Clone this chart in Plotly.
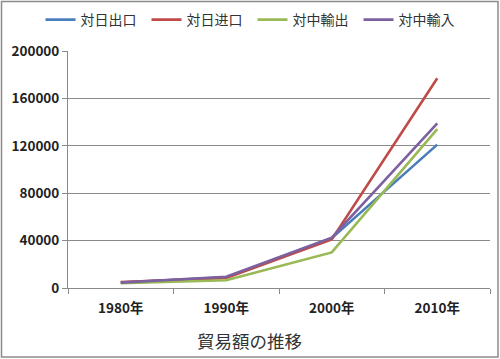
import plotly.graph_objects as go

years = ["1980年", "1990年", "2000年", "2010年"]
series_names = ["対日出口", "対日进口", "対中輸出", "対中輸入"]
japan_export = [4500, 9000, 42000, 121000]
japan_import = [5000, 8500, 41000, 177000]
china_export = [4000, 6500, 30000, 134000]
china_import = [4500, 9500, 42500, 139000]
colors = ["#4A7EBB", "#BE4B48", "#98B954", "#7D60A0"]
title_text = "貿易額の推移"

W, H = 500, 359
L, R, T, B = 68, 10, 51, 71

fig = go.Figure()
for name, vals, c in zip(series_names, [japan_export, japan_import, china_export, china_import], colors):
    fig.add_trace(go.Scatter(x=years, y=vals, name=name, mode="lines",
                             line=dict(color=c, width=2.6)))

pw = W - L - R
ph = H - T - B


def px_x(px):
    return (px - L) / pw


def px_y(py):
    return (H - B - py) / ph


fig.add_shape(type="rect", xref="paper", yref="paper",
              x0=px_x(1.5), x1=px_x(W - 2), y0=px_y(H - 2), y1=px_y(1.5),
              line=dict(color="#8c8c8c", width=1.5))

fig.add_annotation(text=title_text, xref="paper", yref="paper",
                   x=px_x(249), y=px_y(340), xanchor="center", yanchor="middle",
                   showarrow=False, font=dict(size=17.5, color="#333"))

fig.update_layout(
    width=W, height=H,
    margin=dict(l=L, r=R, t=T, b=B, autoexpand=False),
    paper_bgcolor="white", plot_bgcolor="white",
    font=dict(family="Noto Sans CJK JP", color="#222"),
    showlegend=True,
    legend=dict(orientation="h", xref="container", x=0.505, xanchor="center",
                yref="container", y=1 - 20 / H, yanchor="middle",
                font=dict(size=14, color="#333"), itemwidth=30, tracegroupgap=0,
                entrywidth=61, bgcolor="rgba(0,0,0,0)"),
    xaxis=dict(type="category", showgrid=False, showline=True, linecolor="#8a8a8a",
               ticks="outside", tickson="boundaries", ticklen=5, tickcolor="#8a8a8a",
               ticklabelstandoff=8,
               tickfont=dict(size=13.5, weight="bold", color="#222"),
               range=[-0.5, 3.5]),
    yaxis=dict(range=[0, 200000], dtick=40000, tickformat="d", showgrid=True, gridcolor="#8a8a8a", gridwidth=1,
               showline=True, linecolor="#8a8a8a", ticks="outside", ticklen=5, tickcolor="#8a8a8a",
               tickfont=dict(size=13.5, weight="bold", color="#222"), zeroline=False),
)

fig.write_html("out.html", post_script="document.body.style.margin='0';",
               config={"displayModeBar": False})
